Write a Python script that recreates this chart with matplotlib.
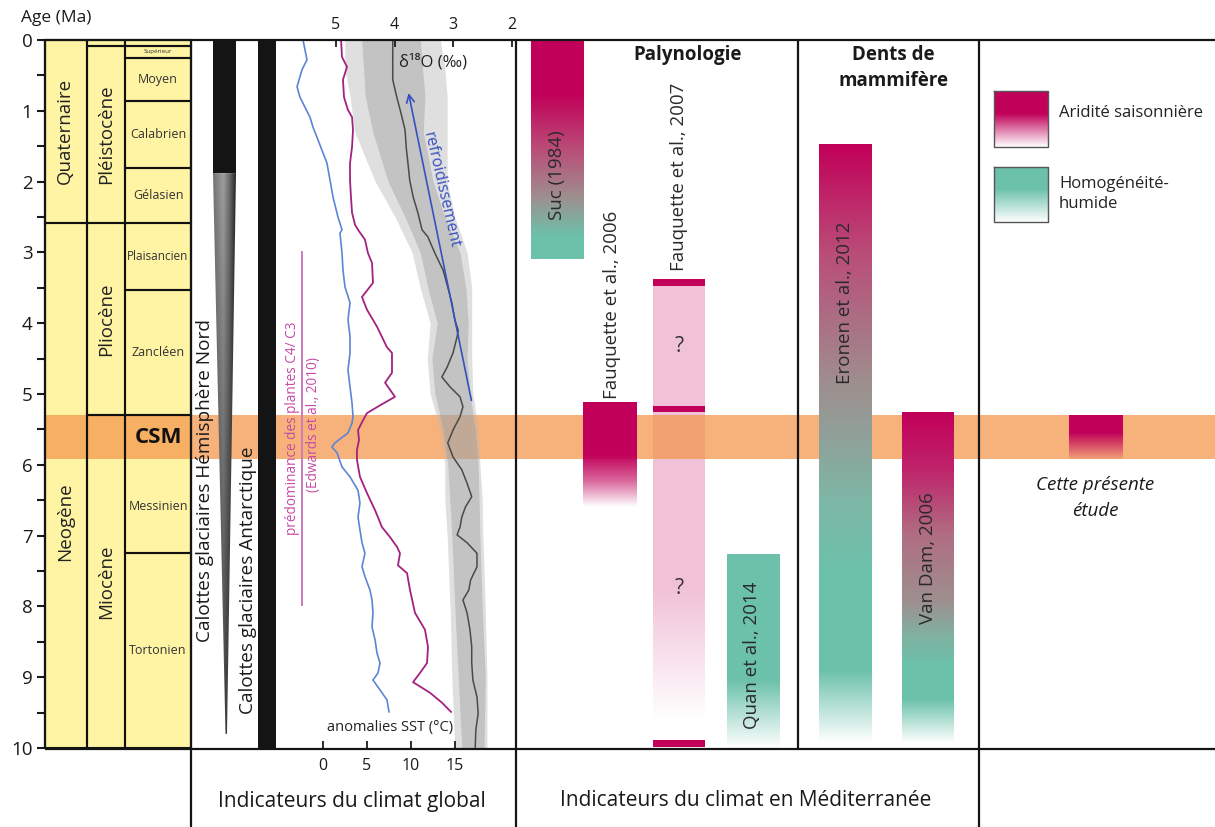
import numpy as np
import matplotlib.pyplot as plt
from matplotlib.patches import Polygon

plt.rcParams['font.family'] = ['Open Sans', 'DejaVu Sans']

# ---- stratigraphic column (ages in Ma) ----
periods = ['Quaternaire', 'Neogène']
period_top = [0.0, 2.58]
period_base = [2.58, 10.0]
period_label_age = [1.29, 6.8]
epochs = ['', 'Pléistocène', 'Pliocène', 'Miocène']
epoch_top = [0.0, 0.08, 2.58, 5.30]
epoch_base = [0.08, 2.58, 5.30, 10.0]
stages = ['', 'Supérieur', 'Moyen', 'Calabrien', 'Gélasien', 'Plaisancien',
          'Zancléen', 'Messinien', 'Tortonien']
stage_top = [0.0, 0.08, 0.25, 0.86, 1.81, 2.58, 3.53, 5.30, 7.25]
stage_base = [0.08, 0.25, 0.86, 1.81, 2.58, 3.53, 5.30, 7.25, 10.0]
csm_top, csm_base = 5.30, 5.92

# ---- global climate ----
nh_full = 1.88        # NH ice sheets fully developed
nh_onset = 9.8        # first NH ice
ant_top, ant_base = 0.0, 10.0
c4_top, c4_base = 2.99, 7.98

sst_blue_age = [0.00, 0.28, 0.42, 0.66, 0.81, 1.09, 1.23, 1.41, 1.74, 1.98, 2.22, 2.50,
                2.68, 2.73, 3.01, 3.25, 3.49, 3.71, 3.95, 4.19, 4.42, 4.66, 4.90, 5.13,
                5.32, 5.41, 5.55, 5.69, 5.75, 5.83, 6.03, 6.17, 6.36, 6.54, 6.74, 6.92,
                7.10, 7.25, 7.44, 7.58, 7.77, 7.91, 8.09, 8.29, 8.47, 8.66, 8.80, 8.94,
                9.04, 9.18, 9.32, 9.49]
sst_blue = [-2.27, -1.82, -2.39, -2.95, -2.61, -1.48, -1.14, -0.57, 0.45, 0.80, 1.14, 1.70,
            2.16, 1.93, 2.16, 2.27, 2.50, 3.07, 2.84, 3.07, 3.07, 2.84, 3.07, 3.30,
            3.41, 3.30, 2.84, 1.36, 1.02, 1.59, 2.16, 3.07, 3.98, 4.20, 3.98, 4.20,
            4.43, 4.77, 4.43, 4.77, 5.34, 5.57, 5.68, 5.57, 5.91, 6.14, 6.48, 6.25,
            5.68, 6.48, 7.27, 7.50]

sst_mag_age = [0.00, 0.24, 0.38, 0.56, 0.81, 0.99, 1.09, 1.27, 1.51, 1.74, 1.98, 2.22,
               2.44, 2.61, 2.68, 2.82, 3.01, 3.15, 3.43, 3.63, 3.81, 4.05, 4.34, 4.42,
               4.70, 4.84, 5.04, 5.16, 5.27, 5.37, 5.51, 5.65, 5.79, 5.93, 6.17, 6.40,
               6.64, 6.88, 7.02, 7.16, 7.25, 7.42, 7.53, 7.77, 8.09, 8.33, 8.57, 8.80,
               8.94, 9.07, 9.22, 9.36, 9.49]
sst_mag = [2.05, 2.16, 2.73, 2.27, 2.39, 2.84, 3.30, 3.41, 3.30, 3.07, 3.07, 3.18,
           3.30, 3.64, 3.98, 4.77, 5.11, 5.57, 5.68, 4.43, 5.00, 6.14, 7.27, 7.84,
           7.84, 7.05, 8.18, 6.48, 5.00, 4.55, 3.98, 4.09, 3.86, 3.86, 4.20, 5.00,
           5.91, 6.70, 7.61, 8.41, 8.75, 8.52, 9.55, 9.89, 10.45, 11.59, 11.93, 11.82,
           11.02, 10.23, 12.16, 13.52, 14.55]

d18o_age = [0.00, 0.56, 0.81, 1.03, 1.27, 1.51, 1.74, 1.98, 2.22, 2.44, 2.68, 2.78,
            3.01, 3.25, 3.49, 3.71, 3.95, 4.10, 4.19, 4.42, 4.62, 4.76, 4.90, 5.04,
            5.18, 5.32, 5.51, 5.69, 5.89, 6.07, 6.26, 6.45, 6.60, 6.74, 6.88, 6.99,
            7.10, 7.25, 7.44, 7.63, 7.77, 7.91, 8.09, 8.33, 8.57, 8.80, 9.04, 9.28,
            9.51, 9.75, 10.0]
d18o = [4.03, 4.03, 3.96, 3.89, 3.82, 3.80, 3.77, 3.74, 3.68, 3.60, 3.53, 3.43,
        3.31, 3.17, 3.09, 3.02, 2.97, 2.91, 2.93, 3.00, 3.10, 3.19, 3.05, 2.88,
        2.83, 2.88, 3.00, 3.09, 3.00, 2.85, 2.76, 2.68, 2.79, 2.85, 2.88, 2.93,
        2.76, 2.59, 2.59, 2.70, 2.73, 2.83, 2.76, 2.71, 2.68, 2.68, 2.66, 2.59,
        2.57, 2.61, 2.62]

# scatter envelope of the individual d18O measurements
cloud_age = [0.0, 0.4, 0.8, 1.3, 2.0, 2.5, 3.0, 3.5, 4.0, 4.5, 5.0, 5.5, 6.0, 6.5, 7.0,
             8.0, 9.0, 10.0]
cloud_hi = [4.85, 4.85, 4.76, 4.68, 4.33, 3.99, 3.70, 3.56, 3.39, 3.44, 3.39, 3.22,
            3.14, 3.14, 3.10, 3.05, 3.02, 2.97]
cloud_lo = [3.22, 3.14, 3.10, 3.10, 3.10, 2.97, 2.76, 2.68, 2.68, 2.68, 2.66, 2.57,
            2.54, 2.50, 2.49, 2.45, 2.42, 2.42]
core_age = [0.0, 0.8, 1.3, 2.0, 2.5, 3.0, 3.5, 4.0, 4.5, 5.0, 5.5, 6.0, 7.0, 8.0, 9.0, 10.0]
core_hi = [4.56, 4.50, 4.37, 4.11, 3.82, 3.56, 3.43, 3.27, 3.36, 3.31, 3.17, 3.09,
           3.02, 2.97, 2.91, 2.85]
core_lo = [3.56, 3.48, 3.51, 3.34, 3.14, 2.88, 2.78, 2.74, 2.76, 2.71, 2.62, 2.57,
           2.54, 2.50, 2.45, 2.47]
cool_from = (2.675, 5.13)   # (d18O, age)
cool_to = (3.77, 0.71)

# ---- Mediterranean proxies ----
refs = ['Suc (1984)', 'Fauquette et al., 2006', 'Quan et al., 2014',
        'Eronen et al., 2012', 'Van Dam, 2006']
ref_top = [0.0, 5.13, 7.26, 1.48, 5.26]
ref_base = [3.10, 6.60, 10.0, 9.93, 9.93]
f07_top, f07_base = 3.48, 9.60
f07_mark_top = [3.38, 5.17, 9.89]
f07_mark_base = [3.48, 5.26, 9.98]
study_top, study_base = 5.31, 5.92

# ---- layout (pixels) ----
W, H = 1215, 827
Y0, PPM = 40, 70.8
age_lim = ((H - Y0) / PPM, -Y0 / PPM)
ref_x = [(531, 584), (583, 637), (727, 780), (819, 872), (902, 954)]
ref_lab = [(557, 175), (612, 305), (752, 655), (845, 303), (928, 558)]
f07_x = (653, 705)
study_x = (1069, 1123)

MAG = (0.76, 0.0, 0.35, 1)
ROSE = (0.73, 0.30, 0.47, 1)
GREY = (0.62, 0.56, 0.56, 1)
TEAL = (0.42, 0.76, 0.67, 1)
PINK = (0.91, 0.60, 0.75, 0.6)
ref_grad = [
    [(0, MAG), (0.25, MAG), (0.5, ROSE), (0.72, GREY), (0.9, TEAL), (1, TEAL)],
    [(0, MAG), (0.5, MAG), (0.75, MAG[:3] + (0.6,)), (1, MAG[:3] + (0,))],
    [(0, TEAL), (0.65, TEAL), (1, TEAL[:3] + (0,))],
    [(0, MAG), (0.18, ROSE), (0.40, GREY), (0.60, (0.49, 0.72, 0.65, 1)), (0.72, TEAL),
     (0.88, TEAL), (1, TEAL[:3] + (0,))],
    [(0, MAG), (0.17, (0.75, 0.14, 0.42, 1)), (0.37, (0.69, 0.43, 0.51, 1)), (0.57, GREY),
     (0.67, (0.51, 0.69, 0.63, 1)), (0.77, TEAL), (0.87, TEAL), (1, TEAL[:3] + (0,))],
]


def gradient(stops, n=300):
    f = np.linspace(0, 1, n)
    pos = [s[0] for s in stops]
    cols = np.array([s[1] for s in stops])
    return np.stack([np.interp(f, pos, cols[:, k]) for k in range(4)], axis=1)[:, None, :]


fig = plt.figure(figsize=(12.15, 8.27), dpi=100)
ax = fig.add_axes([0, 0, 1, 1], label='base')
d_ax = fig.add_axes([0, 0, 1, 1], label='d18o', zorder=1)
s_ax = fig.add_axes([0, 0, 1, 1], label='sst', zorder=2)
lay = fig.add_axes([0, 0, 1, 1], label='layout', zorder=3)
for a in (d_ax, s_ax, lay):
    a.patch.set_visible(False)

# ---- stratigraphic column ----
yellow = '#fff4a4'
for (x0, x1), tops, bases in [((45, 87), period_top, period_base),
                               ((87, 125), epoch_top, epoch_base),
                               ((125, 191), stage_top, stage_base)]:
    h = np.array(bases) - np.array(tops)
    ax.bar((x0 + x1) / 2, h, bottom=tops, width=x1 - x0, color=yellow, zorder=1)
    ax.bar((x0 + x1) / 2, h, bottom=tops, width=x1 - x0, fill=False,
           edgecolor='#111111', lw=1.5, zorder=4)

ax.axhspan(csm_top, csm_base, xmin=45 / W, xmax=1, color='#f3984e', alpha=0.75,
           lw=0, zorder=2)

for name, ag in zip(periods, period_label_age):
    lay.text(65, Y0 + ag * PPM, name, rotation=90, ha='center', va='center', fontsize=13.5,
             color='#222222')
for name, t, b in zip(epochs, epoch_top, epoch_base):
    if name:
        lay.text(106, Y0 + (t + b) / 2 * PPM, name, rotation=90, ha='center',
                 va='center', fontsize=13.5, color='#222222')
for name, t, b in zip(stages, stage_top, stage_base):
    if not name:
        continue
    if name == 'Messinien':
        t = csm_base
    if name == 'Supérieur':
        lay.text(158, Y0 + (t + b) / 2 * PPM, name, ha='center', va='center',
                 fontsize=4.5, color='#333333')
    elif name == 'Plaisancien':
        lay.text(127, Y0 + (t + b) / 2 * PPM, name, ha='left', va='center',
                 fontsize=8.5, color='#333333')
    else:
        lay.text(158, Y0 + (t + b) / 2 * PPM, name, ha='center', va='center',
                 fontsize=9, color='#333333')
lay.text(158, Y0 + (csm_top + csm_base) / 2 * PPM, 'CSM', ha='center', va='center',
         fontsize=16, fontweight='bold', color='#111111')

# ---- ice sheets ----
ax.bar(224.5, nh_full, bottom=0, width=23, color='#141414', zorder=3)
wedge = Polygon([(213, nh_full), (236, nh_full), (227, nh_onset), (225.5, nh_onset)],
                closed=True, transform=ax.transData, fc='none', ec='none')
ax.add_patch(wedge)
xs = np.linspace(0, 1, 60)
shade = np.interp(xs, [0, 0.45, 0.75, 1], [0.45, 0.62, 0.4, 0.15])
ys = np.linspace(0, 1, 120)[:, None]
img = np.clip(shade[None, :] * (1 - 0.55 * ys), 0, 1)
im = ax.imshow(img, cmap='gray', vmin=0, vmax=1, extent=(213, 236, nh_onset, nh_full),
               aspect='auto', origin='upper', zorder=3)
im.set_clip_path(wedge)
ax.bar(267, ant_base - ant_top, bottom=ant_top, width=18, color='#141414', zorder=3)
lay.text(205, 480, 'Calottes glaciaires Hémisphère Nord', rotation=90, ha='center',
         va='center', fontsize=13.7, color='#1a1a1a')
lay.text(248, 580, 'Calottes glaciaires Antarctique', rotation=90, ha='center',
         va='center', fontsize=13.7, color='#1a1a1a')

# C4/C3 plants
ax.plot([302, 302], [c4_top, c4_base], color='#cf79bf', lw=1.4, zorder=3)
lay.text(292, 428, 'prédominance des plantes C4/ C3', rotation=90, ha='center',
         va='center', fontsize=9.8, color='#c54aa6')
lay.text(313, 425, '(Edwards et al., 2010)', rotation=90, ha='center', va='center',
         fontsize=9.8, color='#c54aa6')

# ---- d18O ----
d_ax.fill_betweenx(cloud_age, cloud_lo, cloud_hi, color='#b8b8b8', alpha=0.45, lw=0)
d_ax.fill_betweenx(core_age, core_lo, core_hi, color='#999999', alpha=0.4, lw=0)
d_ax.plot(d18o, d18o_age, color='#4a4a4a', lw=1.1)
d_ax.annotate('', xy=cool_to, xytext=cool_from,
              arrowprops=dict(arrowstyle='->', color='#3650c0', lw=1.2,
                              mutation_scale=14))
lay.text(441, 190, 'refroidissement', rotation=-77, ha='center', va='center',
         fontsize=11.5, color='#3650c0')
lay.text(433, 62, 'δ¹⁸O (‰)', ha='center', va='center', fontsize=12, color='#222222')

# ---- SST ----
s_ax.plot(sst_blue, sst_blue_age, color='#5b86d6', lw=1.2)
s_ax.plot(sst_mag, sst_mag_age, color='#a3227f', lw=1.3)
lay.text(390, 728, 'anomalies SST (°C)', ha='center', va='center', fontsize=10.5,
         color='#222222')

# ---- Mediterranean bars ----
for (x0, x1), t, b, stops in zip(ref_x, ref_top, ref_base, ref_grad):
    ax.imshow(gradient(stops), extent=(x0, x1, b, t), aspect='auto', origin='upper',
              zorder=3, interpolation='bilinear')
pink = [(0, PINK), (0.7, PINK), (1, PINK[:3] + (0,))]
ax.imshow(gradient(pink), extent=(f07_x[0], f07_x[1], f07_base, f07_top), aspect='auto',
          origin='upper', zorder=1.5, interpolation='bilinear')
ax.bar((f07_x[0] + f07_x[1]) / 2, np.array(f07_mark_base) - np.array(f07_mark_top),
       bottom=f07_mark_top, width=f07_x[1] - f07_x[0], color=MAG, zorder=3)
study = [(0, MAG), (0.4, MAG), (1, MAG[:3] + (0.1,))]
ax.imshow(gradient(study), extent=(study_x[0], study_x[1], study_base, study_top),
          aspect='auto', origin='upper', zorder=3, interpolation='bilinear')

for name, (x, y) in zip(refs, ref_lab):
    lay.text(x, y, name, rotation=90, ha='center', va='center', fontsize=13.5,
             color='#2a2a2a')
lay.text(679, 177, 'Fauquette et al., 2007', rotation=90, ha='center', va='center',
         fontsize=13.5, color='#2a2a2a')
for y in (347, 588):
    lay.text(679, y, '?', ha='center', va='center', fontsize=15, color='#333333')

lay.text(688, 55, 'Palynologie', ha='center', va='center', fontsize=13.5,
         fontweight='bold', color='#1a1a1a')
lay.text(893, 55, 'Dents de', ha='center', va='center', fontsize=13.5,
         fontweight='bold', color='#1a1a1a')
lay.text(893, 81, 'mammifère', ha='center', va='center', fontsize=13.5,
         fontweight='bold', color='#1a1a1a')
lay.text(1095, 485, 'Cette présente', ha='center', va='center', fontsize=13.5,
         style='italic', color='#1a1a1a')
lay.text(1095, 511, 'étude', ha='center', va='center', fontsize=13.5,
         style='italic', color='#1a1a1a')

# legend
for (y0, y1), c, lab in [((91, 147), MAG, 'Aridité saisonnière'),
                         ((167, 222), TEAL, 'Homogénéité-\nhumide')]:
    st = [(0, c), (0.4, c), (1, c[:3] + (0,))]
    lay.imshow(gradient(st), extent=(994, 1048, y1, y0), aspect='auto', origin='upper',
               interpolation='bilinear')
    lay.plot([994, 1048, 1048, 994, 994], [y0, y0, y1, y1, y0], color='#555555', lw=1)
    lay.text(1059, 113 if y0 < 100 else 194, lab, ha='left', va='center', fontsize=12,
             color='#222222', linespacing=1.4)

# ---- frame ----
lk = dict(color='#151515', lw=1.6, solid_capstyle='butt')
lay.plot([45, W], [40, 40], **lk)
lay.plot([45, W], [749, 749], **lk)
for x in (191, 516, 979):
    lay.plot([x, x], [40, H], **lk)
lay.plot([798, 798], [40, 749], **lk)
lay.plot([45, 45], [40, 749], **lk)
lay.text(352, 801, 'Indicateurs du climat global', ha='center', va='center',
         fontsize=15, color='#1a1a1a')
lay.text(746, 801, 'Indicateurs du climat en Méditerranée', ha='center', va='center',
         fontsize=15, color='#1a1a1a')
lay.text(21, 18, 'Age (Ma)', ha='left', va='center', fontsize=12.5, color='#1a1a1a')

# ---- axes setup ----
for a in (ax, d_ax, s_ax):
    a.set_ylim(*age_lim)
    for sp in a.spines.values():
        sp.set_visible(False)
ax.set_xlim(0, W)
lay.set_xlim(0, W)
lay.set_ylim(H, 0)
lay.axis('off')

ax.spines['left'].set_position(('data', 45))
ax.set_yticks(range(11))
ax.set_yticks(np.arange(0.5, 10, 1), minor=True)
ax.tick_params(axis='y', which='both', direction='out', length=6, width=1.5,
               labelsize=13.5, pad=3, colors='#1a1a1a')
ax.tick_params(axis='x', which='both', bottom=False, labelbottom=False)

s_ax.set_xlim((0 - 323) / 8.8, (W - 323) / 8.8)
s_ax.spines['bottom'].set_position(('data', 10.0))
s_ax.set_xticks([0, 5, 10, 15])
s_ax.tick_params(axis='x', direction='in', length=5, width=1.3, labelsize=11.5, pad=7,
                 colors='#1a1a1a')
s_ax.tick_params(axis='y', left=False, labelleft=False)

d_ax.set_xlim(5 + 336 / 58.5, 5 - (W - 336) / 58.5)
d_ax.xaxis.tick_top()
d_ax.spines['top'].set_position(('data', 0.0))
d_ax.set_xticks([5, 4, 3, 2])
d_ax.tick_params(axis='x', direction='in', length=5, width=1.3, labelsize=11.5, pad=5,
                 colors='#1a1a1a')
d_ax.tick_params(axis='y', left=False, labelleft=False)

fig.savefig('out.png', dpi=100, facecolor='white')
